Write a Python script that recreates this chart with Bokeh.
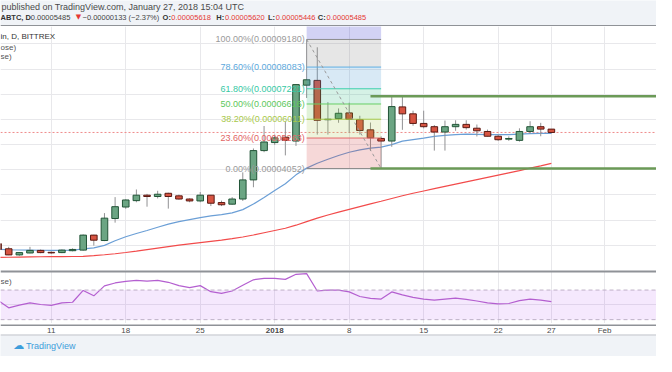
import numpy as np
import pandas as pd
from bokeh.plotting import figure
from bokeh.layouts import column
from bokeh.models import Range1d, FixedTicker, SingleIntervalTicker, Span, BoxAnnotation, ColumnDataSource
from bokeh.core.properties import value
from bokeh.embed import file_html
from bokeh.resources import INLINE

# ---------------- data (prices in satoshi, 1e-8 BTC) ----------------
start_date = "2017-12-06"
open_sat = [1065, 863, 620, 696, 798, 722, 711, 787, 810, 1406, 1191, 2065, 2522, 2776, 2992, 2940, 3068, 2966,
            2840, 2764, 2992, 2700, 2636, 2840, 3600, 4764,
            5083, 5296, 5144, 7364, 7554, 5990, 6034, 6262, 5996, 5589, 5247, 5144, 6501, 6224, 5844, 5714,
            5502, 5714, 5806, 5654, 5524, 5334, 5220, 5171, 5524, 5714, 5618]
high_sat = [1100, 940, 734, 939, 836, 760, 836, 880, 1433, 1420, 2281, 2916, 2830, 3220, 3045, 3167, 3092, 3016,
            2866, 3118, 3000, 2776, 2916, 3900, 4850, 5741,
            5400, 5900, 7400, 9180, 8869, 6691, 6440, 6668, 6147, 5880, 5330, 6920, 6920, 6350, 6349, 5779,
            5958, 5970, 5970, 5800, 5600, 5400, 5330, 5650, 5931, 5867, 5620]
low_sat = [800, 608, 582, 684, 684, 660, 690, 760, 790, 988, 1166, 1901, 2450, 2711, 2535, 2863, 2459, 2814,
           2712, 2712, 2560, 2560, 2612, 2764, 3308, 4700,
           4992, 4574, 4950, 6855, 5399, 5399, 5870, 5475, 5399, 4750, 4052, 4916, 5589, 5750, 5650, 4764,
           4764, 5550, 5600, 5325, 5325, 5150, 5150, 5120, 5450, 5334, 5446]
close_sat = [836, 620, 711, 798, 711, 700, 810, 836, 1406, 1205, 2080, 2536, 2802, 2992, 2940, 3030, 2940, 2840,
             2764, 2992, 2673, 2612, 2840, 3600, 4764, 5106,
             5270, 5171, 7387, 7577, 5969, 6010, 6247, 6007, 5563, 5273, 5144, 6513, 6224, 5844, 5714, 5502,
             5714, 5806, 5676, 5551, 5334, 5197, 5245, 5524, 5714, 5618, 5485]
ema_fast_sat = [840, 825, 815, 810, 805, 800, 800, 805, 860, 900, 1000, 1180, 1340, 1470, 1590, 1720, 1840, 1940,
                2020, 2100, 2170, 2220, 2290, 2420, 2640, 2900,
                3180, 3450, 3800, 4068, 4260, 4420, 4570, 4700, 4790, 4866, 4900, 5000, 5140, 5200, 5260, 5330,
                5370, 5400, 5420, 5410, 5400, 5400, 5395, 5420, 5440, 5450, 5448]
ema_slow_sat = [520, 527, 535, 541, 546, 550, 553, 556, 565, 590, 625, 665, 715, 770, 830, 890, 950, 1005,
                1055, 1105, 1155, 1205, 1265, 1330, 1410, 1500,
                1590, 1680, 1800, 1940, 2080, 2205, 2320, 2430, 2540, 2650, 2750, 2860, 2970, 3070, 3160, 3250,
                3340, 3430, 3520, 3610, 3700, 3790, 3880, 3970, 4065, 4160, 4258]
rsi = [56, 46, 49.6, 52.6, 50.5, 49.2, 52.6, 53.5, 69.5, 62.2, 75.7, 79.6, 81.8, 83, 82.2, 83, 80.5, 76,
       73.4, 76, 67.8, 65.6, 68.7, 76.5, 83.9, 85.7,
       85.7, 84.4, 91.3, 92.2, 68.7, 70, 70, 67.5, 61.3, 58.7, 57.8, 67.5, 63.5, 60, 57.8, 56.5,
       57.8, 59, 57.4, 55.2, 52.6, 51.3, 51.8, 55.7, 57.8, 56.5, 54.4]
tick_dates = ["2017-12-11", "2017-12-18", "2017-12-25", "2018-01-01", "2018-01-08", "2018-01-15",
              "2018-01-22", "2018-01-27", "2018-02-01"]
tick_labels = ["11", "18", "25", "2018", "8", "15", "22", "27", "Feb"]
fib_ratios = [1.0, 0.786, 0.618, 0.5, 0.382, 0.236, 0.0]
fib_prices_sat = [9180, 8083, 7221, 6616, 6011, 5263, 4052]
fib_ext_ratio = 1.618
fib_start, fib_end = "2018-01-04", "2018-01-11"
hline_prices_sat = [6920, 4052]
hline_start = "2018-01-10"
rsi_levels = [70, 30]

# ---------------- helpers ----------------
SAT = 1e-8
DAY = 86400000.0


def ms(d):
    return pd.Timestamp(d).timestamp() * 1000.0


dates = pd.date_range(start_date, periods=len(close_sat), freq="D")
xd = np.array([ms(d) for d in dates])
o = np.array(open_sat) * SAT
h = np.array(high_sat) * SAT
l = np.array(low_sat) * SAT
c = np.array(close_sat) * SAT

W = 656
H_HEAD, H_MAIN, H_RSI, H_AXIS, H_FOOT = 26, 244, 53, 11, 22
FONT = value("Liberation Sans")

# time scale: ~10.9 px per day in the 672 px reference, "11" at x=52
xs = ms("2017-12-11") - 52 / 10.9 * DAY
xe = xs + 672 / 10.9 * DAY
xr = Range1d(xs, xe)


def rx(px):
    return xs + px / 672.0 * (xe - xs)


PRICE_TOP = 255 * 38.02 * SAT   # price at the top of the main pane


def my(ref_y):
    return PRICE_TOP * (282 - ref_y) / 255.0


RSI_HI = 70 + (302.3 - 282) / 0.7675
RSI_LO = 30 - (337 - 333) / 0.7675

tick_ms = [ms(t) for t in tick_dates]


def base_fig(height, x_range, y_range, bg="white"):
    f = figure(width=W, height=height, x_range=x_range, y_range=y_range,
               x_axis_location=None, y_axis_location=None, toolbar_location=None,
               output_backend="svg", min_border=0, outline_line_color=None,
               background_fill_color=bg, border_fill_color=bg)
    return f


# ---------------- header ----------------
hdr = base_fig(H_HEAD, Range1d(0, 672), Range1d(27, 0), bg="#f0f3f7")
hdr.grid.visible = False
hdr.text(x=[1], y=[7], text=["published on TradingView.com, January 27, 2018 15:04 UTC"],
         text_font=FONT, text_font_size="9px", text_color="#4a4a4a", text_baseline="middle")
last, prev = close_sat[-1], close_sat[-2]
chg = last - prev
pct = chg / prev * 100
minus = "\u2212"
pieces = [
    (0, "ABTC, D", "#333333", "bold"),
    (31, f"{last * SAT:.8f}", "#444444", "normal"),
    (84, f"{minus if chg < 0 else '+'}{abs(chg) * SAT:.8f} ({minus if chg < 0 else '+'}{abs(pct):.2f}%)", "#444444", "normal"),
    (166, "O:", "#333333", "bold"), (175, f"{open_sat[-1] * SAT:.8f}", "#e53935", "normal"),
    (221, "H:", "#333333", "bold"), (230, f"{high_sat[-1] * SAT:.8f}", "#e53935", "normal"),
    (274, "L:", "#333333", "bold"), (282, f"{low_sat[-1] * SAT:.8f}", "#e53935", "normal"),
    (325, "C:", "#333333", "bold"), (334, f"{close_sat[-1] * SAT:.8f}", "#e53935", "normal"),
]
hdr.text(x=[pc[0] for pc in pieces], y=[17.3] * len(pieces), text=[pc[1] for pc in pieces],
         text_color=[pc[2] for pc in pieces], text_font_style=[pc[3] for pc in pieces],
         text_font=FONT, text_font_size="7.5px", text_baseline="middle")
hdr.text(x=[77], y=[17.3], text=["\u25bc"], text_font=value("DejaVu Sans"), text_font_size="7px",
         text_color="#e53935", text_baseline="middle")
hdr.add_layout(Span(location=27, dimension="width", line_color="#8f9297", line_width=3))

# ---------------- main price pane ----------------
p = base_fig(H_MAIN, xr, Range1d(0, PRICE_TOP))
p.xgrid.ticker = FixedTicker(ticks=tick_ms)
p.ygrid.ticker = SingleIntervalTicker(interval=1000 * SAT)
p.grid.grid_line_color = "#e8e8eb"
p.grid.grid_line_width = 1

p.add_layout(Span(location=c[-1], dimension="width", line_color="#ef8a8a", line_dash="2 2",
                  line_width=1, level="underlay"))

p.line(xd, np.array(ema_slow_sat) * SAT, line_color="#f24b4b", line_width=1.2)
p.line(xd, np.array(ema_fast_sat) * SAT, line_color="#6b9fd6", line_width=1.2)

inc = c >= o
src = ColumnDataSource(dict(
    x=xd, top=np.maximum(o, c), bottom=np.minimum(o, c), hi=h, lo=l,
    fill=np.where(inc, "#6ba583", "#d75442"), line=np.where(inc, "#225437", "#5b1a13")))
p.segment(x0="x", y0="lo", x1="x", y1="hi", source=src, line_color="#929294", line_width=1)
p.vbar(x="x", width=0.62 * DAY, top="top", bottom="bottom", fill_color="fill", line_color="line",
       line_width=1, source=src)

# Fibonacci retracement
fs, fe = ms(fib_start), ms(fib_end)
fhi, flo = fib_prices_sat[0] * SAT, fib_prices_sat[-1] * SAT
band_tops = [flo + fib_ext_ratio * (fhi - flo)] + [v * SAT for v in fib_prices_sat[:-1]]
band_bots = [v * SAT for v in fib_prices_sat]
band_cols = ["#1e1ec8", "#808080", "#3d8fcf", "#2db982", "#64be3c", "#aac850", "#d23c3c"]
p.quad(left=[fs] * len(band_tops), right=[fe] * len(band_tops), top=band_tops, bottom=band_bots,
       fill_color=band_cols, fill_alpha=0.2, line_color=None)
lvl_cols = ["#8c8c8c", "#5eaee2", "#3ccfae", "#66cf66", "#a8cc4c", "#e46a6a", "#8c8c8c"]
lab_cols = ["#9a9a9a", "#5aa8dc", "#36c8a4", "#5cc85c", "#a8c84a", "#e26464", "#9a9a9a"]
yv = [v * SAT for v in fib_prices_sat]
p.segment(x0=[fs] * len(yv), y0=yv, x1=[fe] * len(yv), y1=yv, line_color=lvl_cols, line_width=1)
p.text(x=[fs] * len(yv), y=yv, x_offset=-2,
       text=[f"{r * 100:.2f}%({v * SAT:.8f})" for r, v in zip(fib_ratios, fib_prices_sat)],
       text_color=lab_cols, text_font=FONT, text_font_size="9px", text_align="right",
       text_baseline="middle")
p.line([fs, fe], [fhi, flo], line_color="#9a9a9a", line_dash="3 3", line_width=1)

# horizontal support / resistance lines
for v in hline_prices_sat:
    p.segment(x0=[ms(hline_start)], y0=[v * SAT], x1=[xe + 5 * DAY], y1=[v * SAT],
              line_color="#6b9a57", line_width=2.5)

# pane legend
p.text(x=[rx(0)] * 3, y=[my(37.7), my(49.3), my(58.5)], text=["in, D, BITTREX", "ose)", "se)"],
       text_color=["#333333", "#555555", "#555555"], text_font=FONT, text_font_size="8px",
       text_baseline="middle")

# ---------------- RSI pane ----------------
r = base_fig(H_RSI, xr, Range1d(RSI_LO, RSI_HI))
r.xgrid.ticker = FixedTicker(ticks=tick_ms)
r.ygrid.ticker = FixedTicker(ticks=[50])
r.grid.grid_line_color = "#e8e8eb"
r.add_layout(BoxAnnotation(bottom=rsi_levels[1], top=rsi_levels[0], fill_color="#a020f0",
                           fill_alpha=0.1, line_color=None, level="underlay"))
for lv in rsi_levels:
    r.add_layout(Span(location=lv, dimension="width", line_color="#bdb0c6", line_dash="4 3", line_width=1))
r.line(xd, rsi, line_color="#b45fd0", line_width=1.2)
r.text(x=[rx(0)], y=[70 + (302.3 - 293) / 0.7675], text=["se)"], text_color="#555555", text_font=FONT,
       text_font_size="8px", text_baseline="middle")
r.add_layout(Span(location=RSI_HI, dimension="width", line_color="#8f9297", line_width=4))

# ---------------- time axis strip ----------------
a = base_fig(H_AXIS, xr, Range1d(0, 1))
a.grid.visible = False
a.text(x=tick_ms, y=[0.42] * len(tick_ms), text=tick_labels,
       text_font_style=["bold" if t == "2018" else "normal" for t in tick_labels],
       text_color="#4a4a4a", text_font=FONT, text_font_size="8px", text_align="center",
       text_baseline="middle")
a.add_layout(Span(location=1, dimension="width", line_color="#8f9297", line_width=3))

# ---------------- footer ----------------
ft = base_fig(H_FOOT, Range1d(0, 672), Range1d(372, 349), bg="#f0f3f7")
ft.grid.visible = False
ft.add_layout(Span(location=349, dimension="width", line_color="#c3c6cc", line_width=2))
ft.text(x=[13], y=[361], text=["\u2601"], text_font=value("DejaVu Sans"), text_font_size="11px",
        text_color="#3d9ddb", text_baseline="middle")
ft.text(x=[26], y=[361], text=["TradingView"], text_font=FONT, text_font_size="9px",
        text_color="#3d9ddb", text_baseline="middle")

layout = column(hdr, p, r, a, ft, spacing=0)
open("out.html", "w").write(file_html(layout, INLINE))
